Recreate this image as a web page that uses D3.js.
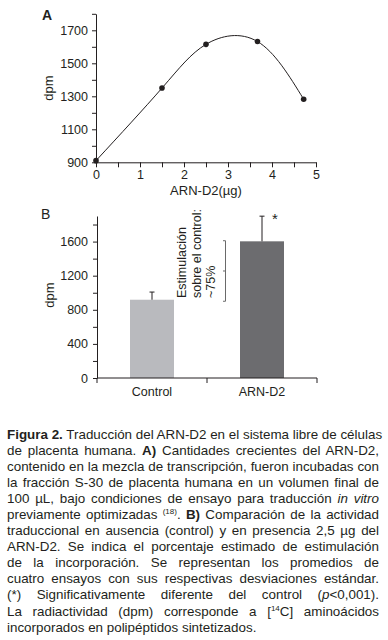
<!DOCTYPE html>
<html lang="es">
<head>
  <meta charset="UTF-8">
  <title>Figura 2</title>
  <script src="https://cdn.jsdelivr.net/npm/d3@7"></script>
  <style>
    body { margin: 0; background: #fff; font-family: "Liberation Sans", Arial, sans-serif; color: #231f20; }
    #caption { position: absolute; left: 7px; top: 427px; width: 372px; font-size: 13.4px; line-height: 16.05px; }
    #caption div { text-align: justify; text-align-last: justify; white-space: nowrap; }
    #caption div.last { text-align-last: left; }
    sup { font-size: 8px; line-height: 0; vertical-align: 5px; }
  </style>
</head>
<body>
<svg></svg>
<div id="caption"></div>
<script>
  const width = 388, height = 410

  // panel A
  const doseA = [0, 1.5, 2.5, 3.67, 4.72]
  const dpmA = [910, 1350, 1615, 1632, 1282]
  const yTicksA = [900, 1100, 1300, 1500, 1700]
  const xTicksA = [0, 1, 2, 3, 4, 5]

  // panel B
  const groupsB = ['Control', 'ARN-D2']
  const meanB = [918, 1603]
  const sdB = [90, 295]
  const yTicksB = [0, 400, 800, 1200, 1600]
  const colorsB = ['#b9babe', '#6c6c6f']

  const svg = d3.select('svg')
      .attr('width', width)
      .attr('height', height)
      .style('display', 'block')
      .style('font-family', '"Liberation Sans", Arial, sans-serif')

  const styleAxis = g => {
    g.selectAll('path, line').attr('stroke', '#231f20')
    g.selectAll('text').attr('fill', '#231f20').style('font-size', '12.5px').style('font-family', '"Liberation Sans", Arial, sans-serif')
  }

  // ---------- A ----------
  const xA = d3.scaleLinear().domain([0, 5]).range([96, 316])
  const yA = d3.scaleLinear().domain([900, 1800]).range([162.3, 13.8])

  svg.append('g')
      .attr('transform', `translate(96,0)`)
      .call(d3.axisLeft(yA).tickValues(d3.range(900, 1801, 100)).tickSize(4).tickSizeOuter(0)
          .tickFormat(d => yTicksA.includes(d) ? d : ''))
      .call(styleAxis)
      .call(g => g.selectAll('text').attr('x', -8))

  svg.append('g')
      .attr('transform', `translate(0,${yA(900)})`)
      .call(d3.axisBottom(xA).tickValues(d3.range(0, 5.01, 0.5)).tickSize(5).tickSizeOuter(0)
          .tickFormat(d => xTicksA.includes(d) ? d : ''))
      .call(styleAxis)
      .call(g => g.selectAll('text').attr('y', 8))

  const line = d3.line()
      .curve(d3.curveNatural)
      .x((d, i) => xA(doseA[i]))
      .y(d => yA(d))

  svg.append('path')
      .attr('d', line(dpmA))
      .attr('fill', 'none')
      .attr('stroke', '#231f20')
      .attr('stroke-width', 1)

  svg.append('g')
      .selectAll('circle')
      .data(dpmA)
      .join('circle')
      .attr('cx', (d, i) => xA(doseA[i]))
      .attr('cy', d => yA(d))
      .attr('r', 2.8)
      .attr('fill', '#231f20')

  svg.append('text').attr('x', 42).attr('y', 20).text('A')
      .style('font-size', '14px').style('font-weight', 'bold').attr('fill', '#231f20')
  svg.append('text').attr('transform', 'translate(53,88) rotate(-90)')
      .attr('text-anchor', 'middle').text('dpm').style('font-size', '13px').attr('fill', '#231f20')
  svg.append('text').attr('x', 206).attr('y', 195).attr('text-anchor', 'middle')
      .text('ARN-D2(µg)').style('font-size', '13px').attr('fill', '#231f20')

  // ---------- B ----------
  const xB = d3.scaleBand().domain(groupsB).range([97, 317]).paddingInner(0.6).paddingOuter(0.3)
  const yB = d3.scaleLinear().domain([0, 1900]).range([378, 216])

  svg.append('g')
      .selectAll('rect')
      .data(meanB)
      .join('rect')
      .attr('x', (d, i) => xB(groupsB[i]))
      .attr('y', d => yB(d))
      .attr('width', xB.bandwidth())
      .attr('height', d => yB(0) - yB(d))
      .attr('fill', (d, i) => colorsB[i])

  const err = svg.append('g').attr('stroke', '#231f20').attr('stroke-width', 1)
  meanB.forEach((m, i) => {
    const cx = xB(groupsB[i]) + xB.bandwidth() / 2
    err.append('line').attr('x1', cx).attr('x2', cx).attr('y1', yB(m)).attr('y2', yB(m + sdB[i]))
    err.append('line').attr('x1', cx - 2.5).attr('x2', cx + 2.5).attr('y1', yB(m + sdB[i])).attr('y2', yB(m + sdB[i]))
  })

  svg.append('g')
      .attr('transform', `translate(97,0)`)
      .call(d3.axisLeft(yB).tickValues(d3.range(0, 1801, 200)).tickSize(4).tickSizeOuter(0)
          .tickFormat(d => yTicksB.includes(d) ? d : ''))
      .call(styleAxis)
      .call(g => g.selectAll('text').attr('x', -9))

  const xAxisB = svg.append('g')
      .attr('transform', `translate(0,${yB(0)})`)
  xAxisB.append('line').attr('x1', 97).attr('x2', 317).attr('stroke', '#231f20')
  xAxisB.selectAll('line.tk')
      .data([97, 207, 317])
      .join('line').attr('class', 'tk')
      .attr('x1', d => d).attr('x2', d => d).attr('y1', 0).attr('y2', 5).attr('stroke', '#231f20')
  xAxisB.selectAll('text')
      .data(groupsB)
      .join('text')
      .attr('x', d => xB(d) + xB.bandwidth() / 2)
      .attr('y', 18)
      .attr('text-anchor', 'middle')
      .style('font-size', '12.5px')
      .attr('fill', '#231f20')
      .text(d => d)

  // bracket showing stimulation
  const bx = 225.5
  const br = svg.append('g').attr('stroke', '#6a6a6a').attr('stroke-width', 1).attr('fill', 'none')
  br.append('line').attr('x1', bx).attr('x2', bx).attr('y1', yB(1610)).attr('y2', yB(900))
  ;[1610, 1255, 900].forEach(v => {
    br.append('line').attr('x1', bx - 2.5).attr('x2', bx).attr('y1', yB(v)).attr('y2', yB(v))
  })

  const stimLines = ['Estimulación', 'sobre el control:', '~75%']
  svg.append('g')
      .selectAll('text')
      .data(stimLines)
      .join('text')
      .attr('transform', (d, i) => `translate(${186 + i * 14.7},298) rotate(-90)`)
      .style('font-size', '12.5px')
      .attr('fill', '#231f20')
      .text(d => d)

  svg.append('text').attr('x', 275).attr('y', 224).attr('text-anchor', 'middle')
      .text('*').style('font-size', '15px').attr('fill', '#231f20')

  svg.append('text').attr('x', 41).attr('y', 219).text('B')
      .style('font-size', '14px').attr('fill', '#231f20')
  svg.append('text').attr('transform', 'translate(54,295) rotate(-90)')
      .attr('text-anchor', 'middle').text('dpm').style('font-size', '13px').attr('fill', '#231f20')

  // ---------- caption ----------
  const captionLines = [
    '<b>Figura 2.</b> Traducción del ARN-D2 en el sistema libre de células',
    'de placenta humana. <b>A)</b> Cantidades crecientes del ARN-D2,',
    'contenido en la mezcla de transcripción, fueron incubadas con',
    'la fracción S-30 de placenta humana en un volumen final de',
    '100 µL, bajo condiciones de ensayo para traducción <i>in vitro</i>',
    'previamente optimizadas <sup>(18)</sup>. <b>B)</b> Comparación de la actividad',
    'traduccional en ausencia (control) y en presencia 2,5 µg del',
    'ARN-D2. Se indica el porcentaje estimado de estimulación',
    'de la incorporación. Se representan los promedios de',
    'cuatro ensayos con sus respectivas desviaciones estándar.',
    '(*) Significativamente diferente del control (<i>p</i>&lt;0,001).',
    'La radiactividad (dpm) corresponde a [<sup>14</sup>C] aminoácidos',
    'incorporados en polipéptidos sintetizados.'
  ]
  d3.select('#caption')
      .selectAll('div')
      .data(captionLines)
      .join('div')
      .classed('last', (d, i) => i === captionLines.length - 1)
      .html(d => d)
</script>
</body>
</html>
